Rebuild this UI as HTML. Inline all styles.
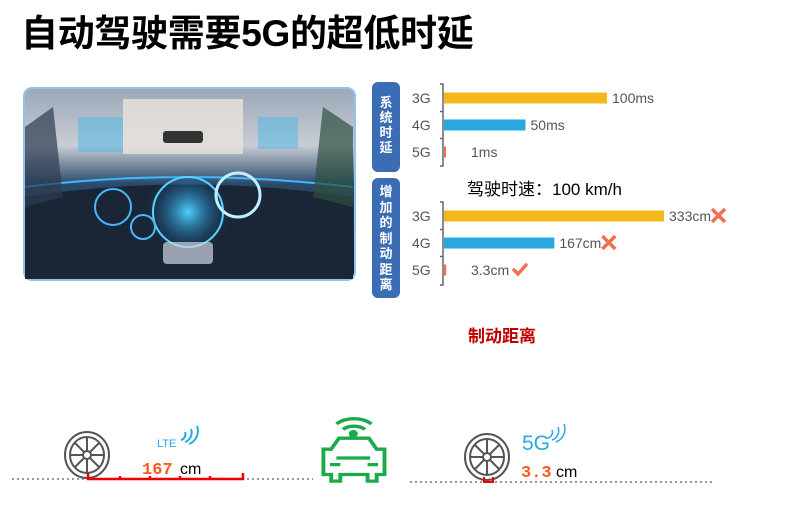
<!DOCTYPE html>
<html><head><meta charset="utf-8"><style>
body{margin:0;width:793px;height:513px;background:#fff;overflow:hidden;font-family:"Liberation Sans","Noto Sans CJK SC",sans-serif;position:relative}
.abs{position:absolute}
</style></head><body>
<div class="abs" style="left:21px;top:3px;font-size:37px;font-weight:bold;color:#000;letter-spacing:-0.3px;white-space:nowrap">自动驾驶需要5G的超低时延</div>

<svg class="abs" style="left:23px;top:87px" width="333" height="194">
<defs>
<linearGradient id="sky" x1="0" y1="0" x2="0" y2="1"><stop offset="0" stop-color="#9aa8b8"/><stop offset="0.3" stop-color="#c9ccd4"/><stop offset="0.5" stop-color="#2a4a6a"/><stop offset="1" stop-color="#0a1626"/></linearGradient>
<radialGradient id="glow" cx="0.5" cy="0.5" r="0.5"><stop offset="0" stop-color="#4fd0ff"/><stop offset="1" stop-color="#0b4a8a" stop-opacity="0"/></radialGradient>
</defs>
<rect x="1" y="1" width="331" height="192" rx="8" fill="url(#sky)" stroke="#8fc4f0" stroke-width="2"/>
<rect x="100" y="12" width="120" height="55" fill="#e8e2dc" opacity="0.8"/>
<rect x="140" y="44" width="40" height="12" rx="3" fill="#333"/>
<path d="M2,110 Q160,85 330,110 L330,192 L2,192Z" fill="#1a2636"/>
<path d="M2,100 Q160,80 330,100" stroke="#3fb8ff" stroke-width="2" fill="none"/>
<circle cx="165" cy="125" r="42" fill="url(#glow)"/>
<circle cx="165" cy="125" r="35" fill="none" stroke="#5ad4ff" stroke-width="2"/>
<circle cx="215" cy="108" r="22" fill="none" stroke="#bfefff" stroke-width="3"/>
<circle cx="90" cy="120" r="18" fill="none" stroke="#4ab8ff" stroke-width="2"/>
<circle cx="120" cy="140" r="12" fill="none" stroke="#4ab8ff" stroke-width="2"/>
<rect x="55" y="30" width="45" height="35" fill="#4ab8e8" opacity="0.5"/>
<rect x="235" y="30" width="40" height="32" fill="#4ab8e8" opacity="0.5"/>
<rect x="140" y="155" width="50" height="22" rx="4" fill="#cfd6e0" opacity="0.7"/>
<path d="M2,40 L30,20 L40,110 L2,120Z" fill="#2d3c50" opacity="0.7"/>
<path d="M330,40 L300,20 L290,110 L330,120Z" fill="#2d5040" opacity="0.7"/>
</svg>

<div class="abs" style="left:372px;top:82px;width:28px;height:90px;background:#3b6db5;border-radius:6px;color:#fff;font-size:13px;font-weight:bold;line-height:15px;text-align:center;padding-top:13px;box-sizing:border-box">系<br>统<br>时<br>延</div>
<div class="abs" style="left:372px;top:178px;width:28px;height:120px;background:#3b6db5;border-radius:6px;color:#fff;font-size:13px;font-weight:bold;line-height:15.5px;text-align:center;padding-top:6px;box-sizing:border-box">增<br>加<br>的<br>制<br>动<br>距<br>离</div>

<svg id="chart" class="abs" style="left:0;top:0" width="793" height="513"></svg>

<div class="abs" style="left:467px;top:175px;font-size:17px;color:#000;white-space:nowrap">驾驶时速：100 km/h</div>
<div class="abs" style="left:468px;top:322px;font-size:17px;font-weight:bold;color:#c00000">制动距离</div>

<svg class="abs" style="left:0;top:380px" width="793" height="133">
<line x1="12" y1="99" x2="313" y2="99" stroke="#999" stroke-width="2" stroke-dasharray="2,3"/>
<line x1="410" y1="102" x2="712" y2="102" stroke="#999" stroke-width="2" stroke-dasharray="2,3"/>
<g fill="none" stroke="#555" stroke-width="2">
<ellipse cx="87" cy="75" rx="22" ry="23"/><ellipse cx="87" cy="75" rx="17" ry="18"/><circle cx="87" cy="75" r="4"/>
<path d="M87,57V71M87,79V93M70,75H83M91,75H104M75,63L84,72M99,63L90,72M75,87L84,78M99,87L90,78"/>
</g>
<path d="M88,93V99H243V93M120,99V96M150,99V96M180,99V96M210,99V96" stroke="#e00" stroke-width="2.5" fill="none"/>
<text x="157" y="67" fill="#29a8e0" font-size="11" font-family="Liberation Sans">LTE</text>
<path d="M181,60a6,6 0 0 0 4,-8M185,62a10,10 0 0 0 6,-13M189,64a14,14 0 0 0 8,-18" stroke="#29a8e0" stroke-width="2" fill="none"/>
<text x="142" y="94" fill="#ff5a1a" font-size="17" font-weight="bold" font-family="Liberation Mono">167</text>
<text x="180" y="94" fill="#000" font-size="16" font-family="Liberation Sans">cm</text>
<g fill="none" stroke="#1aaa4a" stroke-width="3" transform="translate(-103,-10) scale(1.3,1.1)">
<path d="M343,54a12,10 0 0 1 17,0M338,49a19,16 0 0 1 27,0"/>
<circle cx="351" cy="58" r="2" fill="#1aaa4a"/>
<path d="M334,72L340,62H363L369,72H375V95H369V101H362V95H341V101H334V95H328V72Z"/>
<path d="M338,80H364M333,86H341M362,86H370"/>
</g>
<g fill="none" stroke="#555" stroke-width="2">
<ellipse cx="487" cy="77" rx="22" ry="23"/><ellipse cx="487" cy="77" rx="17" ry="18"/><circle cx="487" cy="77" r="4"/>
<path d="M487,59V73M487,81V95M470,77H483M491,77H504M475,65L484,74M499,65L490,74M475,89L484,80M499,89L490,80"/>
</g>
<path d="M484,97V102H493V97" stroke="#e00" stroke-width="2" fill="none"/>
<text x="522" y="70" fill="#29a8e0" font-size="21" font-family="Liberation Sans">5G</text>
<path d="M548,58a6,6 0 0 0 4,-8M552,60a10,10 0 0 0 6,-13M556,62a14,14 0 0 0 8,-18" stroke="#29a8e0" stroke-width="1.5" fill="none"/>
<text x="521" y="97" fill="#ff5a1a" font-size="17" font-weight="bold" font-family="Liberation Mono">3.3</text>
<text x="556" y="97" fill="#000" font-size="16" font-family="Liberation Sans">cm</text>
</svg>

<script>
const categories = ["3G","4G","5G"];
const latencyValues = [100, 50, 1];
const latencyLabels = ["100ms","50ms","1ms"];
const distanceValues = [333, 167, 3.3];
const distanceLabels = ["333cm","167cm","3.3cm"];
const distanceOk = [false, false, true];
const colors = ["#f5b81c","#29a8e0","#f07050"];

const NS = "http://www.w3.org/2000/svg";
const svg = document.getElementById("chart");
const axisX = 443;
function mk(tag, attrs){const e=document.createElementNS(NS,tag);for(const k in attrs)e.setAttribute(k,attrs[k]);svg.appendChild(e);return e;}
function drawChart(vals, labels, rowY, scale, top, bottom, name, marks){
  const ax = mk("path",{d:`M${axisX-3},${top}H${axisX}V${bottom}H${axisX-3}M${axisX-3},${(rowY[0]+rowY[1])/2}H${axisX}M${axisX-3},${(rowY[1]+rowY[2])/2}H${axisX}`,stroke:"#666","stroke-width":1.5,fill:"none"});
  
  
  vals.forEach((v,i)=>{
    const w = Math.max(2, v*scale);
    const cy = rowY[i];
    const r = mk("rect",{x:axisX+1,y:cy-5.5,width:w,height:11,fill:colors[i]});
    
    
    const c = mk("text",{x:412,y:cy+5,"font-size":14,fill:"#555","font-family":"Liberation Sans"});
    c.textContent = categories[i];
    
    
    const lx = axisX + Math.max(w, 12) + 6;
    const t = mk("text",{x:lx+(w<12?10:0),y:cy+5,"font-size":14,fill:"#555","font-family":"Liberation Sans"});
    t.textContent = labels[i];
    
    
    if(marks){
      const tx = lx+(w<12?10:0) + labels[i].length*7.8 + 4;
      let m;
      if(marks[i]) m = mk("path",{d:`M${tx},${cy}l4,4l8,-9`,stroke:"#f07050","stroke-width":3.5,fill:"none","stroke-linecap":"round"});
      else m = mk("path",{d:`M${tx},${cy-7}l13,13M${tx+13},${cy-7}l-13,13`,stroke:"#f07050","stroke-width":3.5,fill:"none"});
      
      
    }
  });
}
drawChart(latencyValues, latencyLabels, [98,125,152], 163/100, 84, 166, "latency", null);
drawChart(distanceValues, distanceLabels, [216,243,270], 220/333, 202, 285, "distance", distanceOk);
</script>
</body></html>
